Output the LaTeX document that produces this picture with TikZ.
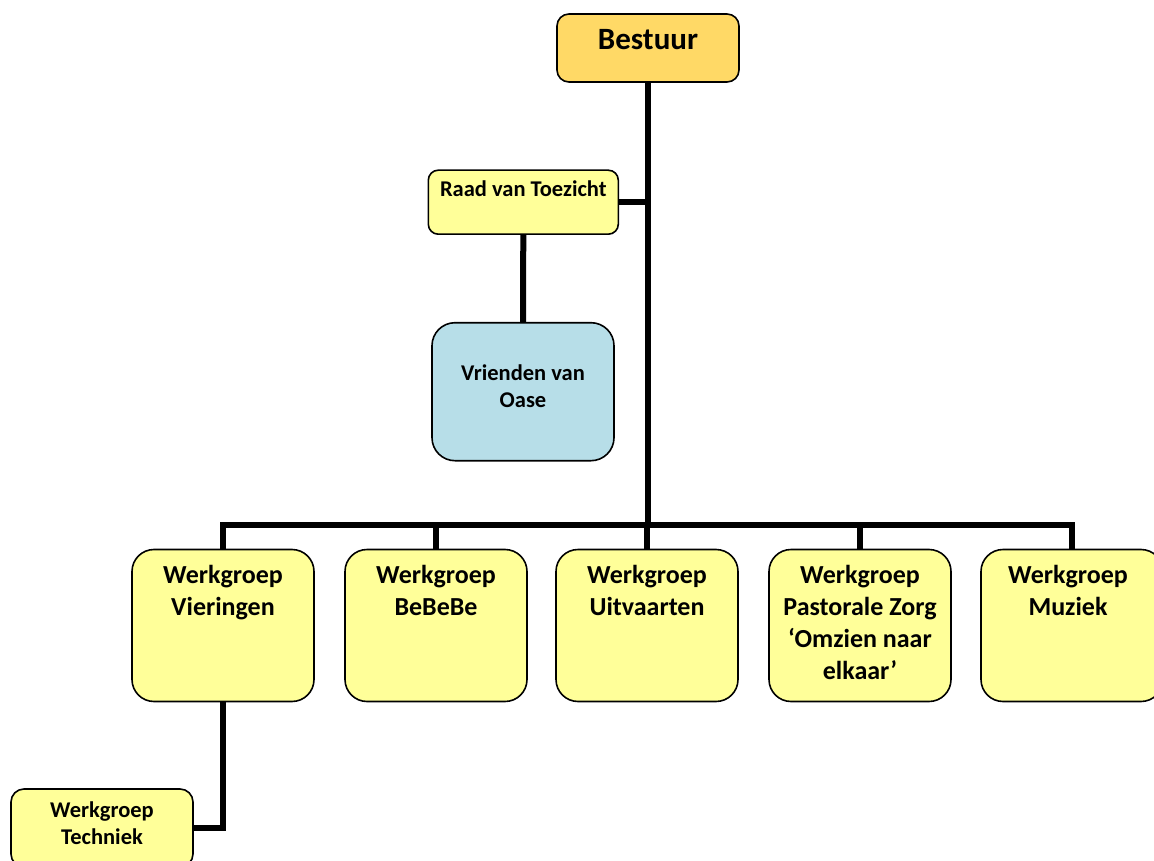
\documentclass[tikz,border=0pt]{standalone}
\usepackage{fontspec}
\setmainfont{Carlito}
\definecolor{byel}{HTML}{FFFF99}
\definecolor{borange}{HTML}{FFD966}
\definecolor{bblue}{HTML}{B7DEE8}
\begin{document}
\begin{tikzpicture}[x=1pt,y=-1pt,
  box/.style={draw=black, line width=1.6pt, inner sep=0pt},
  ylw/.style={box, fill=byel},
  wg/.style={ylw, rounded corners=22pt, minimum width=182pt, minimum height=152pt},
  lbl/.style={align=center, inner sep=0pt, anchor=base},
  big/.style={lbl, font=\fontsize{26}{32}\selectfont\bfseries},
  mid/.style={lbl, font=\fontsize{22.5}{27}\selectfont\bfseries},
  link/.style={line width=6pt, line join=miter}
]
\useasboundingbox (0,0) rectangle (1154,861);
% boxes
\node[box, fill=borange, rounded corners=12pt, minimum width=182pt, minimum height=68pt] (bestuur) at (648,48) {};
\node[ylw, rounded corners=10pt, minimum width=190pt, minimum height=64pt] (raad) at (523.3,202.2) {};
\node[box, fill=bblue, rounded corners=23pt, minimum width=182pt, minimum height=138pt] (vr) at (523,391.7) {};
\node[wg] (vier) at (223,625.5) {};
\node[wg] (bebe) at (436,625.5) {};
\node[wg] (uitv) at (647,625.5) {};
\node[wg] (past) at (860,625.5) {};
\node[wg] (muz) at (1072,625.5) {};
\node[ylw, rounded corners=13pt, minimum width=182pt, minimum height=78pt] (tech) at (102,828) {};
\coordinate (bus) at (648,525);
% connectors
\draw[link] (bestuur.south) -- (bus);
\draw[link] (vier.north) |- (bus) -| (muz.north);
\draw[link] (bebe.north) -- (bebe.north |- bus);
\draw[link] (uitv.north) -- (uitv.north |- bus);
\draw[link] (past.north) -- (past.north |- bus);
\draw[link] (raad.east) -- (raad.east -| bestuur.south);
\draw[link] (raad.south) -- (vr.north);
\draw[link] (vier.south) |- (tech.east);
% labels (anchor = baseline of last line)
\node[lbl, font=\fontsize{31}{37}\selectfont\bfseries] (tbestuur) at (648,49.3) {Bestuur};
\node[mid] (traad) at (523.3,197) {Raad van Toezicht};
\node[mid] (tvr) at (523,407) {Vrienden van\\Oase};
\node[big] (tvier) at (223,615.5) {Werkgroep\\Vieringen};
\node[big] (tbebe) at (436,615.5) {Werkgroep\\BeBeBe};
\node[big] (tuitv) at (647,615.5) {Werkgroep\\Uitvaarten};
\node[big] (tpast) at (860,679.5) {Werkgroep\\Pastorale Zorg\\‘Omzien naar\\elkaar’};
\node[big] (tmuz) at (1068,615.5) {Werkgroep\\Muziek};
\node[mid] (ttech) at (102,844) {Werkgroep\\Techniek};
\end{tikzpicture}
\end{document}
